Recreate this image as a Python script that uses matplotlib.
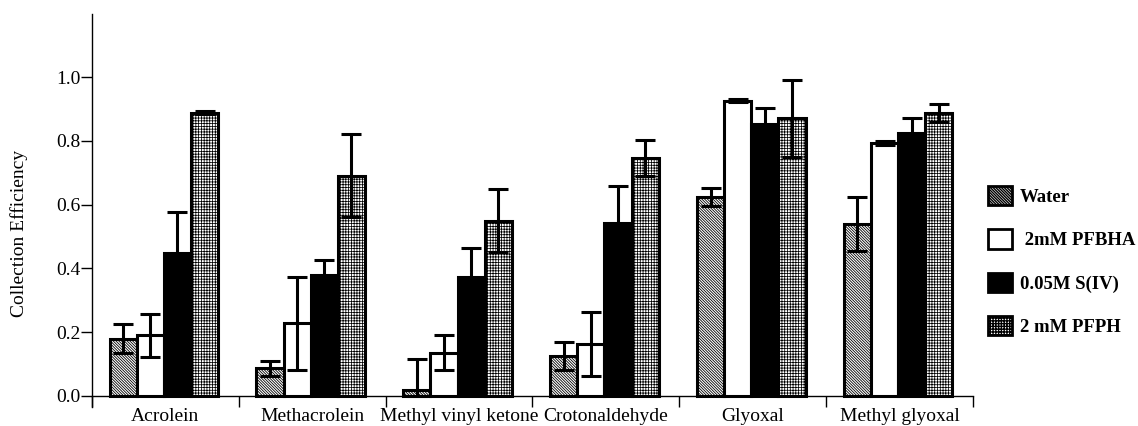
import numpy as np
import matplotlib.pyplot as plt
from matplotlib.patches import Patch

plt.rcParams['font.family'] = ['Liberation Serif', 'DejaVu Serif']

# datos
compuestos = ['Acrolein', 'Methacrolein', 'Methyl vinyl ketone',
              'Crotonaldehyde', 'Glyoxal', 'Methyl glyoxal']
series = ['Water', ' 2mM PFBHA', '0.05M S(IV)', '2 mM PFPH']

agua = [0.18, 0.087, 0.02, 0.125, 0.625, 0.538]
pfbha = [0.19, 0.228, 0.136, 0.163, 0.926, 0.794]
s4 = [0.448, 0.38, 0.372, 0.541, 0.853, 0.823]
pfph = [0.888, 0.69, 0.55, 0.747, 0.87, 0.888]

err_agua = [0.045, 0.024, 0.095, 0.043, 0.028, 0.085]
err_pfbha = [0.067, 0.145, 0.056, 0.1, 0.005, 0.006]
err_s4 = [0.13, 0.046, 0.091, 0.118, 0.051, 0.047]
err_pfph = [0.005, 0.13, 0.1, 0.057, 0.121, 0.028]

valores = [agua, pfbha, s4, pfph]
errores = [err_agua, err_pfbha, err_s4, err_pfph]
colores = ['white', 'white', 'black', 'white']
tramas = ['\\' * 12, '', '', '++++++']
grosor_trama = [0.6, 0.6, 0.6, 0.55]

fig = plt.figure(figsize=(11.38, 4.26), dpi=100)
ax = fig.add_axes([0.0808, 0.0446, 0.7742, 0.9225])

x = np.arange(len(compuestos))
ancho = 0.185
inicio = 0.12

manijas = []
for i in range(4):
    pos = x + inicio + ancho * (i + 0.5)
    with plt.rc_context({'hatch.linewidth': grosor_trama[i]}):
        ax.bar(pos, valores[i], width=ancho, color=colores[i], hatch=tramas[i],
               edgecolor='black', linewidth=2.2, zorder=2)
        manijas.append(Patch(facecolor=colores[i], hatch=tramas[i],
                             edgecolor='black', linewidth=2.0))
    abajo = [min(e, v) for e, v in zip(errores[i], valores[i])]
    ax.errorbar(pos, valores[i], yerr=[abajo, errores[i]], fmt='none',
                ecolor='black', elinewidth=2.2, capsize=7.5, capthick=2.2,
                zorder=3)

ax.set_xlim(0, 6)
ax.set_ylim(-0.0345, 1.1975)
ax.spines['top'].set_visible(False)
ax.spines['right'].set_visible(False)
ax.spines['bottom'].set_position(('data', 0))
ax.spines['left'].set_linewidth(1.0)
ax.spines['bottom'].set_linewidth(1.0)

ax.set_yticks([0.0, 0.2, 0.4, 0.6, 0.8, 1.0])
ax.set_yticklabels(['0.0', '0.2', '0.4', '0.6', '0.8', '1.0'], fontsize=14)
ax.tick_params(axis='y', direction='out', length=8, width=1.0, pad=0.5)

ax.set_xticks(np.arange(0, 7), minor=True)
ax.set_xticks(x + 0.5)
ax.set_xticklabels(compuestos, fontsize=14)
ax.tick_params(axis='x', which='major', length=0, pad=9)
ax.tick_params(axis='x', which='minor', direction='out', length=8, width=1.0)

ax.set_ylabel('Collection Efficiency', fontsize=14)
ax.yaxis.set_label_coords(-0.0726, 0.4415)

fig.legend(manijas, series, loc='upper left', bbox_to_anchor=(0.8682, 0.5634),
           frameon=False, prop={'weight': 'bold', 'size': 13.5},
           borderaxespad=0, borderpad=0,
           handlelength=1.28, handleheight=1.2, handletextpad=0.43,
           labelspacing=1.25)

plt.savefig('out.png', dpi=100)
